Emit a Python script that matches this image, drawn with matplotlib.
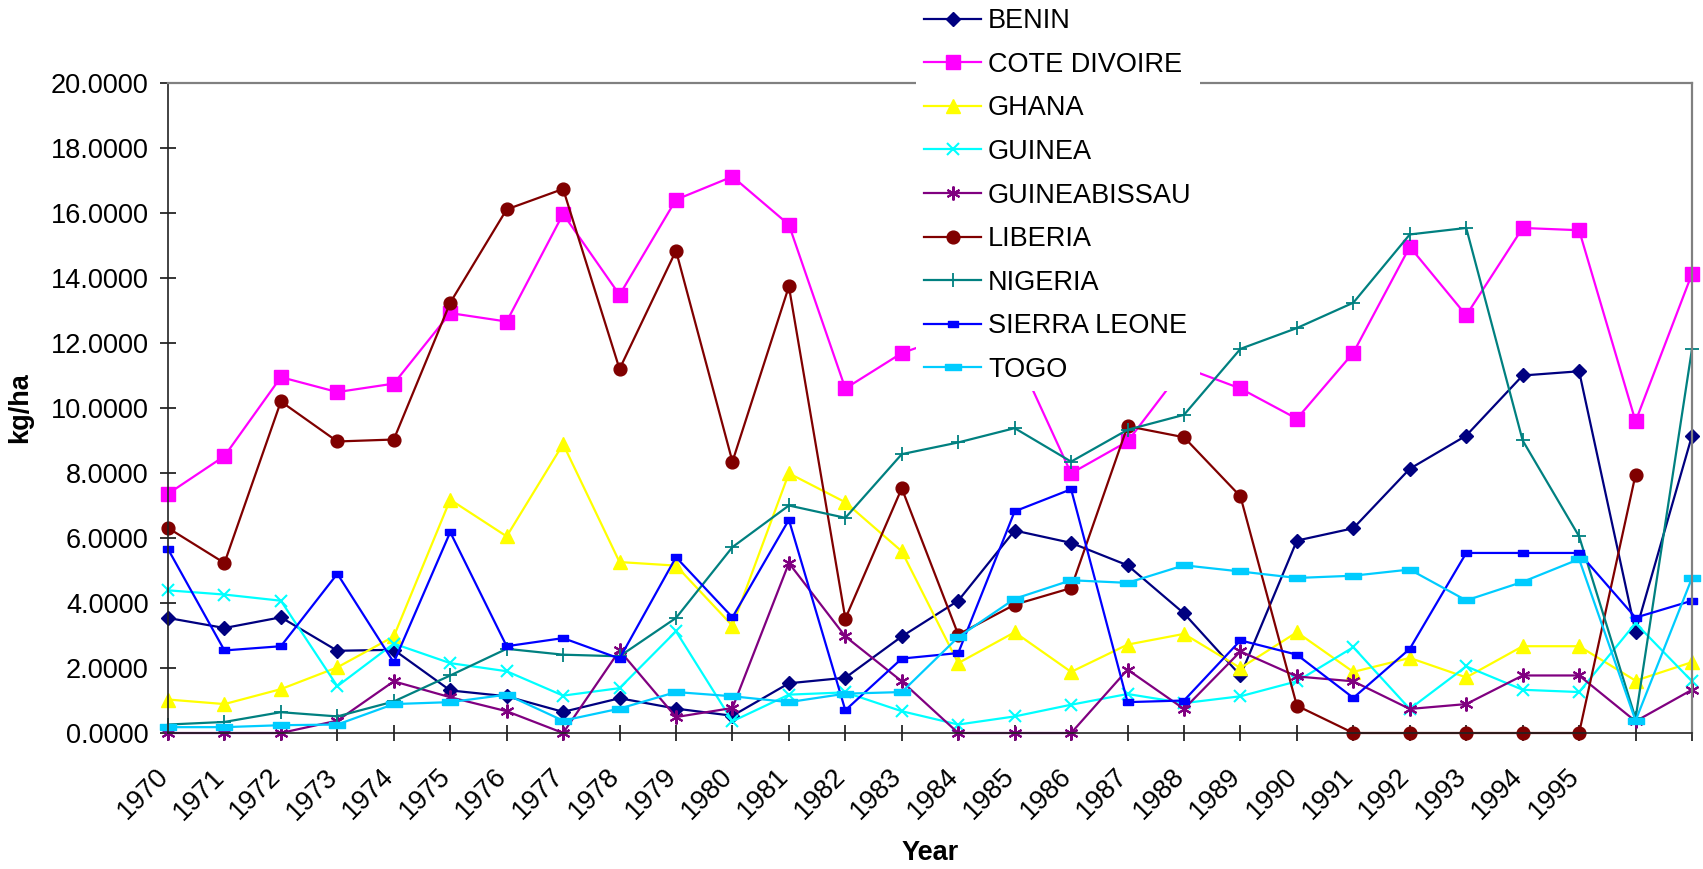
import matplotlib
matplotlib.use("Agg")
import matplotlib.pyplot as plt
import matplotlib.transforms as mtransforms
import numpy as np

plt.rcParams["font.family"] = ["Liberation Sans", "DejaVu Sans"]

# ── Data ─────────────────────────────────────────────────────────────────────
years = list(range(1970, 1998))
year_labels = [str(y) for y in range(1970, 1996)] + ["", ""]

benin = [3.54, 3.23, 3.56, 2.53, 2.56, 1.31, 1.13, 0.65, 1.07, 0.75, 0.53, 1.53, 1.70, 2.97,
         4.07, 6.23, 5.85, 5.16, 3.68, 1.77, 5.92, 6.30, 8.13, 9.15, 11.00, 11.13, 3.11, 9.15]
cote_divoire = [7.36, 8.52, 10.95, 10.49, 10.75, 12.92, 12.66, 15.97, 13.48, 16.41, 17.12, 15.64,
                10.60, 11.69, 12.30, 11.77, 7.99, 8.97, 11.25, 10.60, 9.67, 11.70, 14.96, 12.85,
                15.54, 15.47, 9.59, 14.13]
ghana = [1.03, 0.89, 1.35, 2.02, 2.97, 7.18, 6.05, 8.89, 5.26, 5.15, 3.30, 7.99, 7.10, 5.59,
         2.15, 3.10, 1.88, 2.72, 3.05, 2.00, 3.10, 1.88, 2.31, 1.71, 2.67, 2.67, 1.61, 2.18]
guinea = [4.39, 4.26, 4.07, 1.44, 2.75, 2.15, 1.90, 1.15, 1.38, 3.13, 0.36, 1.18, 1.25, 0.67,
          0.26, 0.51, 0.87, 1.20, 0.92, 1.13, 1.59, 2.64, 0.74, 2.05, 1.33, 1.26, 3.38, 1.59]
guineabissau = [0.0, 0.0, 0.0, 0.38, 1.59, 1.10, 0.67, 0.0, 2.54, 0.49, 0.77, 5.23, 2.97, 1.59,
                0.0, 0.0, 0.0, 1.95, 0.74, 2.51, 1.74, 1.59, 0.74, 0.89, 1.77, 1.77, 0.36, 1.33]
liberia = [6.31, 5.23, 10.20, 8.97, 9.03, 13.24, 16.11, 16.74, 11.20, 14.84, 8.35, 13.74, 3.52,
           7.53, 3.03, 3.95, 4.46, 9.44, 9.10, 7.28, 0.84, 0.0, 0.0, 0.0, 0.0, 0.0, 7.95, np.nan]
nigeria = [0.26, 0.34, 0.64, 0.51, 0.97, 1.77, 2.59, 2.41, 2.36, 3.54, 5.72, 7.00, 6.62, 8.58,
           8.94, 9.38, 8.35, 9.33, 9.79, 11.82, 12.46, 13.24, 15.34, 15.54, 9.00, 6.05, 0.45, 11.82]
sierra_leone = [5.66, 2.54, 2.67, 4.90, 2.17, 6.18, 2.67, 2.92, 2.29, 5.41, 3.56, 6.56, 0.70,
                2.29, 2.46, 6.82, 7.50, 0.95, 1.00, 2.85, 2.41, 1.08, 2.59, 5.54, 5.54, 5.54,
                3.55, 4.07]
togo = [0.18, 0.18, 0.24, 0.26, 0.89, 0.95, 1.18, 0.38, 0.75, 1.26, 1.13, 0.95, 1.21, 1.26,
        2.95, 4.13, 4.70, 4.62, 5.16, 4.97, 4.77, 4.84, 5.03, 4.08, 4.65, 5.35, 0.38, 4.77]

# wide flat bars for SIERRA LEONE / TOGO markers (Excel style)
small_bar = [(-1.4, -1), (1.4, -1), (1.4, 1), (-1.4, 1), (-1.4, -1)]
wide_bar = [(-2.2, -1), (2.2, -1), (2.2, 1), (-2.2, 1), (-2.2, -1)]

series = [
    ("BENIN", benin, "#000080", dict(marker="D", ms=6.8)),
    ("COTE DIVOIRE", cote_divoire, "#FF00FF", dict(marker="s", ms=9.8)),
    ("GHANA", ghana, "#FFFF00", dict(marker="^", ms=10)),
    ("GUINEA", guinea, "#00FFFF", dict(marker="x", ms=9, mew=1.5)),
    ("GUINEABISSAU", guineabissau, "#800080", dict(marker=(6, 2, 0), ms=10, mew=1.5)),
    ("LIBERIA", liberia, "#800000", dict(marker="o", ms=9.2)),
    ("NIGERIA", nigeria, "#008080", dict(marker="+", ms=9.5, mew=1.3)),
    ("SIERRA LEONE", sierra_leone, "#0000FF", dict(marker=small_bar, ms=6.8)),
    ("TOGO", togo, "#00CCFF", dict(marker=wide_bar, ms=10.8)),
]

W, H = 1703, 869
fig = plt.figure(figsize=(W / 100, H / 100), dpi=100)
ax = fig.add_axes([168 / W, 1 - 733 / H, (1692 - 168) / W, (733 - 83) / H])

x = np.arange(len(years))
for name, vals, color, style in series:
    ax.plot(x, vals, color=color, lw=1.6, label=name, clip_on=False, **style)

ax.set_xlim(0, len(years) - 1)
ax.set_ylim(0, 20)
ax.set_yticks(np.arange(0, 21, 2))
ax.set_yticklabels([f"{v:.4f}" for v in np.arange(0, 21, 2)], fontsize=19.5)
ax.set_xticks(x)
ax.set_xticklabels(year_labels, fontsize=19.5, rotation=45, ha="right", va="top",
                   rotation_mode="anchor")
ax.tick_params(axis="y", direction="inout", length=12, width=1.1, pad=8)
ax.tick_params(axis="x", direction="inout", length=12, width=1.1, pad=16)
shift = mtransforms.ScaledTranslation(-0.13, 0, fig.dpi_scale_trans)
for lab in ax.get_xticklabels():
    lab.set_transform(lab.get_transform() + shift)

for side in ("left", "bottom"):
    ax.spines[side].set_color("#222222")
    ax.spines[side].set_linewidth(1.2)
for side in ("top", "right"):
    ax.spines[side].set_color("#808080")
    ax.spines[side].set_linewidth(1.6)

ax.set_ylabel("kg/ha", fontsize=19.5, fontweight="bold")
ax.yaxis.set_label_coords(-0.0886, 0.5)
ax.set_xlabel("Year", fontsize=19.5, fontweight="bold")
ax.xaxis.set_label_coords(0.5, -0.165)

leg = fig.legend(loc="upper left", bbox_to_anchor=(916 / W, 1.0), borderaxespad=0,
                 fontsize=19.5, frameon=True, fancybox=False, borderpad=0.3,
                 handlelength=2.1, handletextpad=0.26, labelspacing=0.65)
leg.get_frame().set_facecolor("white")
leg.get_frame().set_edgecolor("none")
leg.get_frame().set_alpha(1.0)

fig.savefig("out.png", dpi=100)
